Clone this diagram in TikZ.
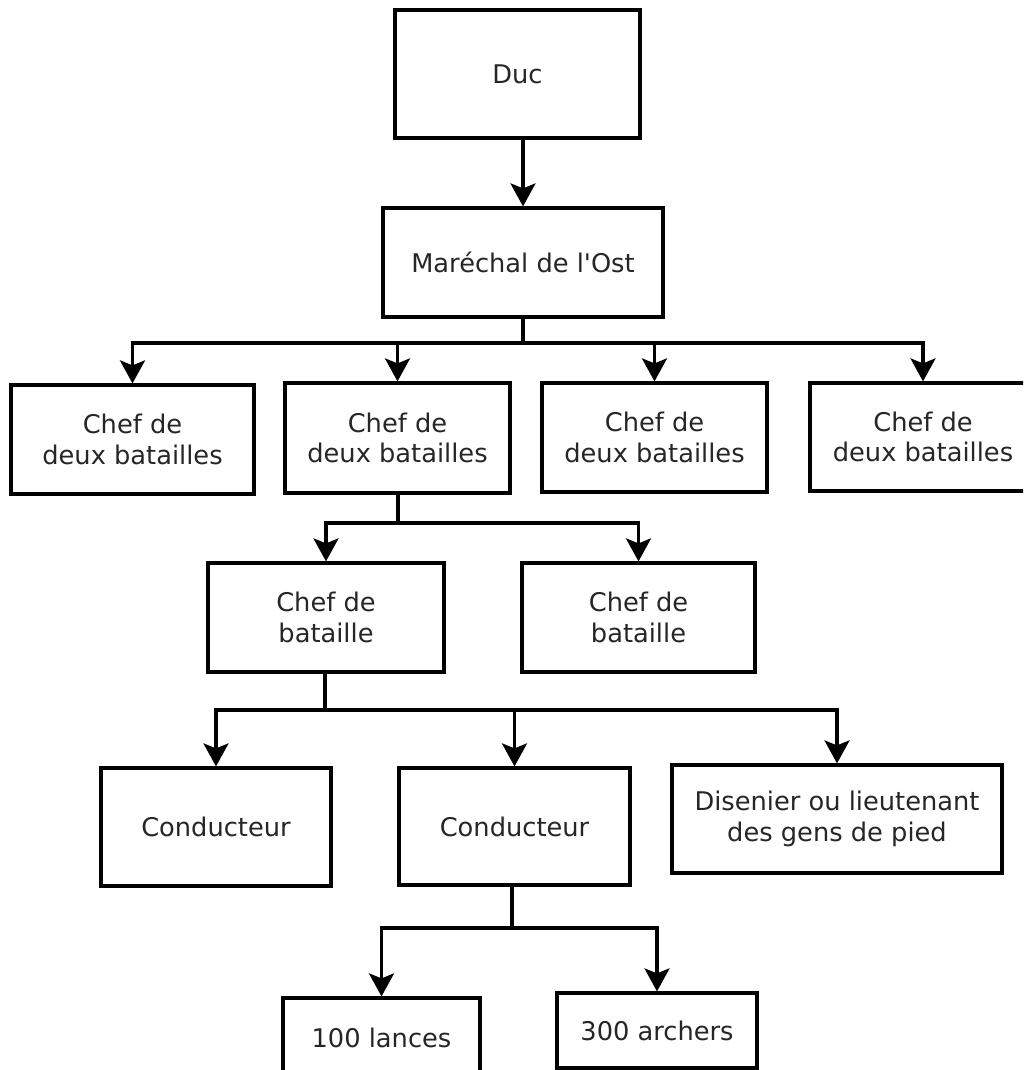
\documentclass[tikz,border=0pt]{standalone}
\usepackage{fontspec}
\setmainfont{DejaVu Sans}[Ligatures=TeXOff]
\usetikzlibrary{arrows.meta}
\tikzset{
  box/.style={draw=black, line width=3.2pt, rectangle, align=center, inner sep=0pt,
    font=\fontsize{25.7}{30.8}\selectfont, text=black!85},
  arr/.style={draw=black, line width=3.2pt, -{Stealth[length=23pt,width=25pt,inset=5pt]}},
  ln/.style={draw=black, line width=3.2pt}
}
\begin{document}
\begin{tikzpicture}[x=1pt,y=-1pt]
\useasboundingbox (0,0) rectangle (1023,1070);
\clip (0,0) rectangle (1023,1070);
\fill[white] (0,0) rectangle (1023,1070);
% nodes
\node[box, minimum width=245pt, minimum height=128pt] (duc) at (517.5,74) {Duc};
\node[box, minimum width=280pt, minimum height=109pt] (mar) at (523,262.5) {Maréchal de l'Ost};
\node[box, minimum width=243pt, minimum height=109pt] (c1) at (132.5,439.5) {Chef de\\deux batailles};
\node[box, minimum width=225pt, minimum height=110pt] (c2) at (397.5,438) {Chef de\\deux batailles};
\node[box, minimum width=225pt, minimum height=109pt] (c3) at (654.5,437.5) {Chef de\\deux batailles};
\node[box, minimum width=226pt, minimum height=108pt] (c4) at (923,437) {Chef de\\deux batailles};
\node[box, minimum width=236pt, minimum height=109pt] (b1) at (326,617.5) {Chef de\\bataille};
\node[box, minimum width=233pt, minimum height=109pt] (b2) at (638.5,617.5) {Chef de\\bataille};
\node[box, minimum width=230pt, minimum height=118pt] (k1) at (216,827) {Conducteur};
\node[box, minimum width=231pt, minimum height=117pt] (k2) at (514.5,826.5) {Conducteur};
\node[box, minimum width=330pt, minimum height=108pt] (dis) at (837,819) {Disenier ou lieutenant\\des gens de pied};
\node[box, minimum width=197pt, minimum height=80pt] (l100) at (381.5,1038) {100 lances};
\node[box, minimum width=200pt, minimum height=75pt] (a300) at (657,1030.5) {300 archers};
% junctions
\coordinate (j1) at (523,343);
\coordinate (j2) at (398,523);
\coordinate (j3) at (325,710);
\coordinate (j4) at (512,928);
% connectors
\draw[arr] (mar.north |- duc.south) -- (mar.north);
\draw[ln] (mar.south) -- (j1);
\draw[arr] (j1) -| (c1.north);
\draw[arr] (j1) -| (c2.north);
\draw[arr] (j1) -| (c3.north);
\draw[arr] (j1) -| (c4.north);
\draw[ln] (c2.south -| j2) -- (j2);
\draw[arr] (j2) -| (b1.north);
\draw[arr] (j2) -| (b2.north);
\draw[ln] (b1.south -| j3) -- (j3);
\draw[arr] (j3) -| (k1.north);
\draw[arr] (j3) -| (k2.north);
\draw[arr] (j3) -| (dis.north);
\draw[ln] (k2.south -| j4) -- (j4);
\draw[arr] (j4) -| (l100.north);
\draw[arr] (j4) -| (a300.north);
\end{tikzpicture}
\end{document}
